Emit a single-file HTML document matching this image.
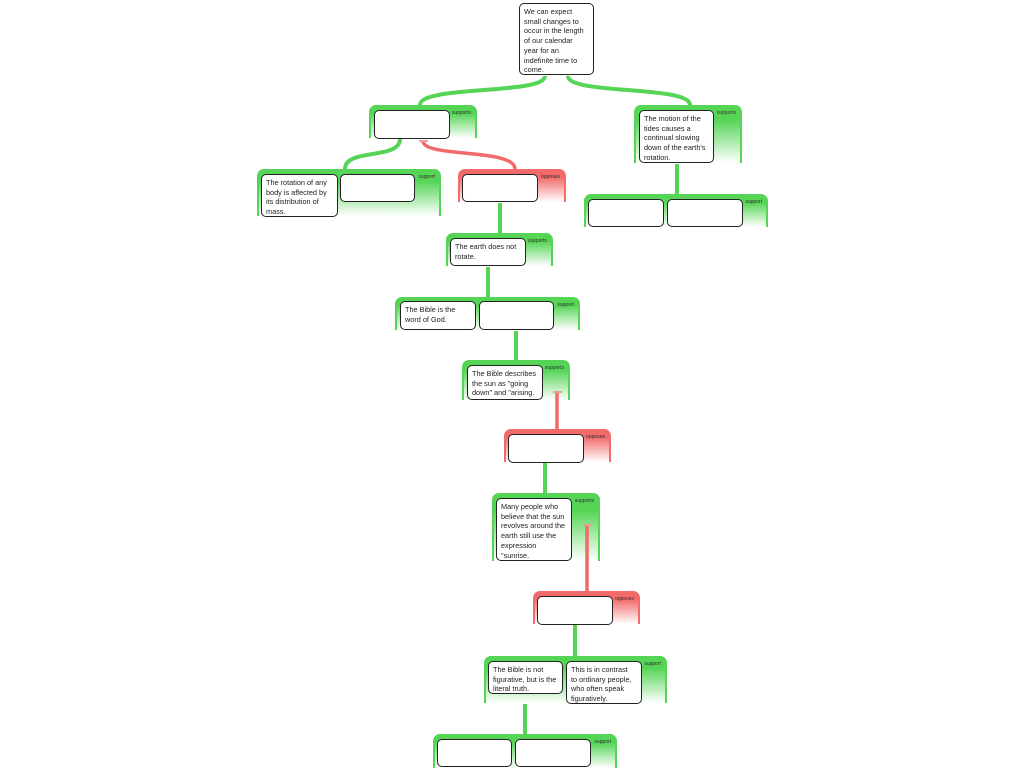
<!DOCTYPE html>
<html><head><meta charset="utf-8"><style>
body{margin:0;width:1024px;height:768px;background:#fff;position:relative;overflow:hidden;font-family:"Liberation Sans",sans-serif}
.g{position:absolute;border-radius:7px 7px 0 0;border-left:2px solid #55d455;border-right:2px solid #55d455;box-sizing:border-box;background:linear-gradient(#55d455 0px,#55d455 25%,#fff 100%)}
.r{border-color:#f26a6a;background:linear-gradient(#f26a6a 0px,#f26a6a 25%,#fff 100%)}
.lb{position:absolute;right:4px;top:5px;font-size:5px;color:#333}
.b{position:absolute;background:#fff;border:1.6px solid #222;border-radius:5px;box-sizing:border-box;font-size:7.3px;line-height:9.7px;color:#222;padding:3px 3px 0 4px;overflow:hidden}
svg{position:absolute;left:0;top:0;z-index:5}
</style></head><body>
<svg width="1024" height="768">
<g fill="none" stroke="#55d455" stroke-width="4">
<path d="M545 76 C545 95 420 85 420 105"/>
<path d="M568 76 C568 95 690 85 690 105"/>
<path d="M400 139 C400 160 345 148 345 169"/>
<path d="M677 164 L677 194"/>
<path d="M500 203 L500 233"/>
<path d="M488 267 L488 297"/>
<path d="M516 331 L516 360"/>
<path d="M545 463 L545 493"/>
<path d="M575 625 L575 656"/>
<path d="M525 704 L525 734"/>
</g>
<g fill="none" stroke="#f26a6a" stroke-width="3.5">
<path d="M515 169 C515 148 423 158 423 141"/>
<path d="M557 393 L557 429"/>
<path d="M587 526 L587 591"/>
</g>
<g stroke="#f29a9a" stroke-width="2">
<path d="M419 141 H428"/><path d="M553 392 H562"/><path d="M583 525 H592"/>
</g>
</svg>
<div class="g" style="left:369px;top:105px;width:108px;height:33px"><span class="lb">supports</span></div>
<div class="g" style="left:634px;top:105px;width:108px;height:58px"><span class="lb">supports</span></div>
<div class="g" style="left:257px;top:169px;width:184px;height:47px"><span class="lb">support</span></div>
<div class="g r" style="left:458px;top:169px;width:108px;height:33px"><span class="lb">opposes</span></div>
<div class="g" style="left:584px;top:194px;width:184px;height:33px"><span class="lb">support</span></div>
<div class="g" style="left:446px;top:233px;width:107px;height:33px"><span class="lb">supports</span></div>
<div class="g" style="left:395px;top:297px;width:185px;height:33px"><span class="lb">support</span></div>
<div class="g" style="left:462px;top:360px;width:108px;height:40px"><span class="lb">supports</span></div>
<div class="g r" style="left:504px;top:429px;width:107px;height:33px"><span class="lb">opposes</span></div>
<div class="g" style="left:492px;top:493px;width:108px;height:68px"><span class="lb">supports</span></div>
<div class="g r" style="left:533px;top:591px;width:107px;height:33px"><span class="lb">opposes</span></div>
<div class="g" style="left:484px;top:656px;width:183px;height:47px"><span class="lb">support</span></div>
<div class="g" style="left:433px;top:734px;width:184px;height:34px"><span class="lb">support</span></div>

<div class="b" style="left:519px;top:3px;width:75px;height:72px">We can expect<br>small changes to<br>occur in the length<br>of our calendar<br>year for an<br>indefinite time to<br>come.</div>
<div class="b" style="left:374px;top:110px;width:76px;height:29px"></div>
<div class="b" style="left:639px;top:110px;width:75px;height:53px">The motion of the<br>tides causes a<br>continual slowing<br>down of the earth's<br>rotation.</div>
<div class="b" style="left:261px;top:174px;width:77px;height:43px">The rotation of any<br>body is affected by<br>its distribution of<br>mass.</div>
<div class="b" style="left:340px;top:174px;width:75px;height:28px"></div>
<div class="b" style="left:462px;top:174px;width:76px;height:28px"></div>
<div class="b" style="left:588px;top:199px;width:76px;height:28px"></div>
<div class="b" style="left:667px;top:199px;width:76px;height:28px"></div>
<div class="b" style="left:450px;top:238px;width:76px;height:28px">The earth does not<br>rotate.</div>
<div class="b" style="left:400px;top:301px;width:76px;height:29px">The Bible is the<br>word of God.</div>
<div class="b" style="left:479px;top:301px;width:75px;height:29px"></div>
<div class="b" style="left:467px;top:365px;width:76px;height:35px">The Bible describes<br>the sun as "going<br>down" and "arising.</div>
<div class="b" style="left:508px;top:434px;width:76px;height:29px"></div>
<div class="b" style="left:496px;top:498px;width:76px;height:63px">Many people who<br>believe that the sun<br>revolves around the<br>earth still use the<br>expression<br>"sunrise.</div>
<div class="b" style="left:537px;top:596px;width:76px;height:29px"></div>
<div class="b" style="left:488px;top:661px;width:75px;height:33px">The Bible is not<br>figurative, but is the<br>literal truth.</div>
<div class="b" style="left:566px;top:661px;width:76px;height:43px">This is in contrast<br>to ordinary people,<br>who often speak<br>figuratively.</div>
<div class="b" style="left:437px;top:739px;width:75px;height:28px"></div>
<div class="b" style="left:515px;top:739px;width:76px;height:28px"></div>
</body></html>
